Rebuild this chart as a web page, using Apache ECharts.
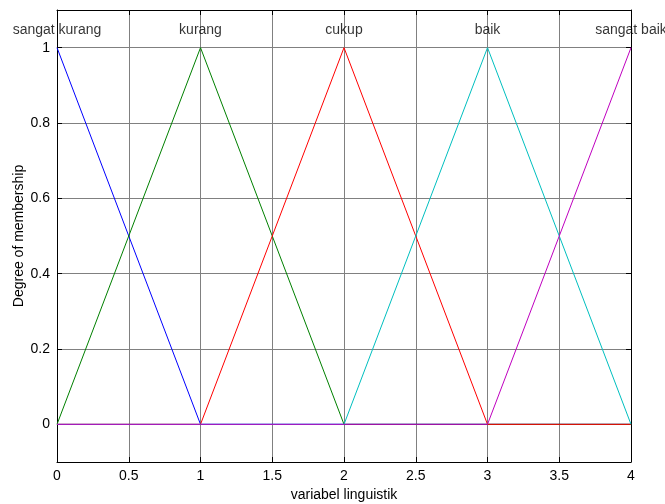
<!DOCTYPE html>
<html>
<head>
<meta charset="utf-8">
<script src="https://cdn.jsdelivr.net/npm/echarts@6/dist/echarts.min.js"></script>
<style>
html,body{margin:0;padding:0;background:#fff;}
#c{width:665px;height:504px;}
</style>
</head>
<body>
<div id="c"></div>
<script>
// Data
var xPoints = [0, 1, 2, 3, 4];
var labelNames = ['sangat kurang', 'kurang', 'cukup', 'baik', 'sangat baik'];
var sangatKurang = [1, 0, 0, 0, 0];
var kurang = [0, 1, 0, 0, 0];
var cukup = [0, 0, 1, 0, 0];
var baik = [0, 0, 0, 1, 0];
var sangatBaik = [0, 0, 0, 0, 1];
var yTicks = [0, 0.2, 0.4, 0.6, 0.8, 1];
var labelY = 1.046;
var xTitle = 'variabel linguistik';
var yTitle = 'Degree of membership';

var seriesValues = [sangatKurang, kurang, cukup, baik, sangatBaik];
var colors = ['#0000ff', '#008000', '#ff0000', '#00bfbf', '#bf00bf'];

function pairs(vals) {
  return xPoints.map(function (x, i) { return [x, vals[i]]; });
}

var font = 'Liberation Sans, Arial, sans-serif';
var series = seriesValues.map(function (vals, i) {
  return {
    type: 'line',
    name: labelNames[i],
    data: pairs(vals),
    symbol: 'none',
    lineStyle: { color: colors[i], width: 1 },
    itemStyle: { color: colors[i] },
    z: 3 + i,
    animation: false
  };
});
series.push({
  type: 'scatter',
  data: xPoints.map(function (x, i) { return { value: [x, labelY], name: labelNames[i] }; }),
  symbolSize: 0,
  clip: false,
  label: {
    show: true,
    position: 'inside',
    formatter: function (p) { return p.name; },
    color: '#000',
    fontFamily: font,
    fontSize: 14
  },
  z: 10,
  animation: false
});

var chart = echarts.init(document.getElementById('c'), null, { renderer: 'canvas' });
chart.setOption({
  animation: false,
  backgroundColor: '#fff',
  grid: { left: 57, right: 34, top: 10, bottom: 42, containLabel: false, outerBoundsMode: 'none' },
  xAxis: [{
    type: 'value', min: 0, max: 4, interval: 0.5, position: 'bottom',
    name: xTitle, nameLocation: 'middle', nameGap: 25,
    nameTextStyle: { color: '#000', fontFamily: font, fontSize: 14 },
    axisLine: { show: true, onZero: false, lineStyle: { color: '#000', width: 1 } },
    axisTick: { show: true, inside: true, length: 5, lineStyle: { color: '#000' } },
    axisLabel: { color: '#000', fontFamily: font, fontSize: 14, margin: 7 },
    splitLine: { show: true, lineStyle: { color: '#808080', width: 1 } }
  }, {
    type: 'value', min: 0, max: 4, interval: 0.5, position: 'top',
    axisLine: { show: true, onZero: false, lineStyle: { color: '#000', width: 1 } },
    axisTick: { show: true, inside: true, length: 5, lineStyle: { color: '#000' } },
    axisLabel: { show: false },
    splitLine: { show: false }
  }],
  yAxis: [{
    type: 'value', min: -0.1, max: 1.1, position: 'left',
    name: yTitle, nameLocation: 'middle', nameGap: 31, nameRotate: 90, nameMoveOverlap: false,
    nameTextStyle: { color: '#000', fontFamily: font, fontSize: 14 },
    axisLine: { show: true, onZero: false, lineStyle: { color: '#000', width: 1 } },
    axisTick: { show: true, inside: true, length: 5, customValues: yTicks, lineStyle: { color: '#000' } },
    axisLabel: { color: '#000', fontFamily: font, fontSize: 14, margin: 7, customValues: yTicks,
      formatter: function (v) { return String(Math.round(v * 10) / 10); } },
    splitLine: { show: true, lineStyle: { color: '#808080', width: 1 } }
  }, {
    type: 'value', min: -0.1, max: 1.1, position: 'right',
    axisLine: { show: true, onZero: false, lineStyle: { color: '#000', width: 1 } },
    axisTick: { show: true, inside: true, length: 5, customValues: yTicks, lineStyle: { color: '#000' } },
    axisLabel: { show: false },
    splitLine: { show: false }
  }],
  series: series
});
</script>
</body>
</html>
